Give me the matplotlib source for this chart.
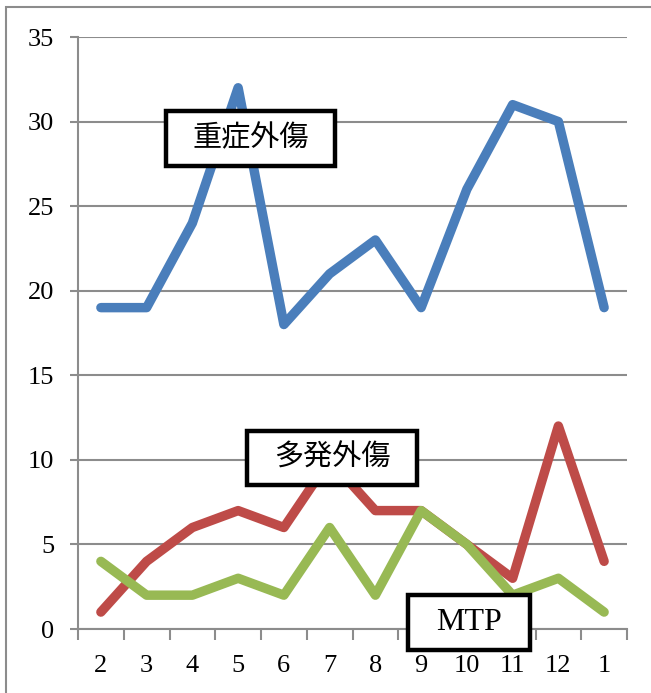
import matplotlib.pyplot as plt
from matplotlib.patches import Rectangle

months = ["2", "3", "4", "5", "6", "7", "8", "9", "10", "11", "12", "1"]
severe = [19, 19, 24, 32, 18, 21, 23, 19, 26, 31, 30, 19]
multiple = [1, 4, 6, 7, 6, 10, 7, 7, 5, 3, 12, 4]
mtp = [4, 2, 2, 3, 2, 6, 2, 7, 5, 2, 3, 1]

W, H = 651, 693
GRID = "#8c8c8c"

plt.rcParams["font.family"] = ["Liberation Serif", "Noto Sans CJK JP"]


def px_box(fig, x0, y0, x1, y1, label, size, family):
    """Draw a black-framed white label box given in pixel coordinates."""
    fig.add_artist(Rectangle((x0 / W, 1 - y1 / H), (x1 - x0) / W, (y1 - y0) / H,
                             transform=fig.transFigure, facecolor="white",
                             edgecolor="black", linewidth=3.2, zorder=10))
    fig.text((x0 + x1) / 2 / W, 1 - (y0 + y1) / 2 / H, label, ha="center",
             va="center", fontsize=size, zorder=11, family=family)


def main():
    fig = plt.figure(figsize=(W / 100, H / 100), dpi=100)
    ax = fig.add_axes([78 / W, 1 - 629 / H, (627 - 78) / W, (629 - 37) / H])

    x = list(range(len(months)))
    style = dict(lw=6.8, solid_capstyle="round", solid_joinstyle="round")
    ax.plot(x, severe, color="#4A7EBB", zorder=3, **style)
    ax.plot(x, multiple, color="#BE4B48", zorder=3, **style)
    ax.plot(x, mtp, color="#98B954", zorder=4, **style)

    ax.set_xlim(-0.5, len(months) - 0.5)
    ax.set_ylim(0, 35)
    ax.set_yticks(range(0, 36, 5))
    ax.set_xticks(x)
    ax.set_xticklabels(months)
    ax.set_xticks([i - 0.5 for i in range(len(months) + 1)], minor=True)

    for s in ["top", "right"]:
        ax.spines[s].set_visible(False)
    for s in ["left", "bottom"]:
        ax.spines[s].set_color(GRID)
        ax.spines[s].set_linewidth(1.5)
    ax.yaxis.grid(True, color=GRID, lw=1.5)
    ax.set_axisbelow(True)

    ax.tick_params(axis="y", length=6, width=1.5, color=GRID, pad=11,
                   labelsize=19)
    ax.tick_params(axis="x", which="major", length=0, pad=19, labelsize=19)
    ax.tick_params(axis="x", which="minor", length=8, width=1.5, color=GRID)

    # outer chart frame (cropped at right and bottom)
    fig.add_artist(Rectangle((6 / W, -0.1), 1.2, 1 - 7 / H + 0.1,
                             transform=fig.transFigure, fill=False,
                             edgecolor=GRID, linewidth=1.5))

    jp = ["Noto Sans CJK JP", "DejaVu Sans"]
    px_box(fig, 166, 111, 335, 166, "重症外傷", 21, jp)
    px_box(fig, 247, 431, 417, 485, "多発外傷", 21, jp)
    px_box(fig, 408, 595, 530, 650, "MTP", 23, "Liberation Serif")

    fig.savefig("out.png", dpi=100)


if __name__ == "__main__":
    main()
